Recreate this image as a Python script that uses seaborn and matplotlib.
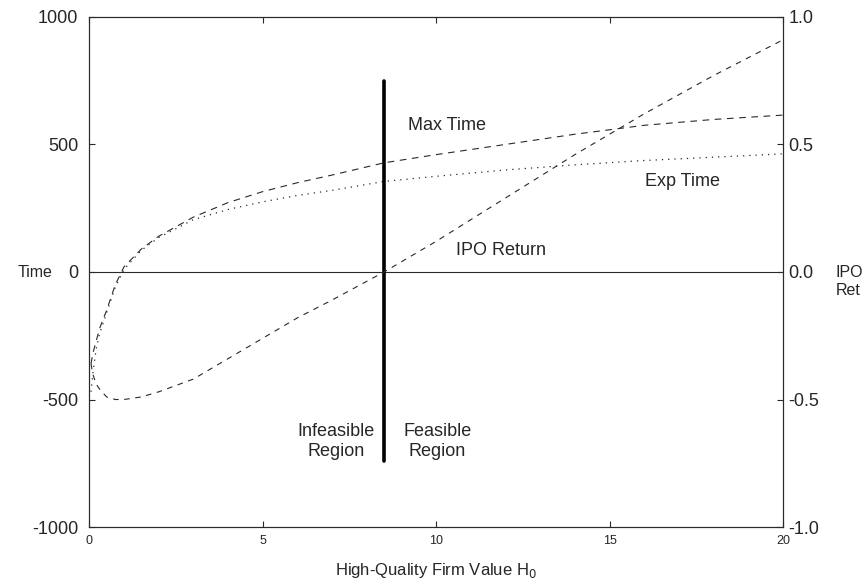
import numpy as np
import pandas as pd
import matplotlib
matplotlib.use("Agg")
import matplotlib.pyplot as plt
import seaborn as sns

# values
hq_value = [0.05, 0.1, 0.2, 0.3, 0.5, 0.75, 1.0, 1.5, 2, 3, 4, 5, 6, 7, 8.5,
            10, 12, 14, 16, 18, 20]
max_time = [-360, -320, -270, -220, -150, -50, 20, 90, 140, 215, 272, 315, 350,
            380, 428, 460, 500, 540, 575, 598, 615]
exp_time = [-470, -400, -300, -240, -160, -60, 10, 85, 135, 205, 245, 275, 300,
            320, 355, 375, 400, 420, 437, 450, 463]
ipo_return = [-0.36, -0.40, -0.44, -0.46, -0.49, -0.50, -0.50, -0.49, -0.47,
              -0.42, -0.34, -0.26, -0.18, -0.11, 0.0, 0.12, 0.29, 0.46, 0.62,
              0.77, 0.91]
boundary_x = 8.5
boundary_y = [-740, 750]

df = pd.DataFrame({"H0": hq_value, "MaxTime": max_time, "ExpTime": exp_time,
                   "IPORet": ipo_return})

sns.set_style("ticks")
plt.rcParams["font.family"] = ["Liberation Sans", "DejaVu Sans"]
plt.rcParams["axes.unicode_minus"] = False

ink = "#2a2a2a"
fig = plt.figure(figsize=(8.67, 5.83), dpi=100)
ax = fig.add_axes([0.103, 0.096, 0.800, 0.875])

sns.lineplot(data=df, x="H0", y="MaxTime", ax=ax, color=ink, lw=0.8,
             linestyle=(0, (6, 5)), estimator=None)
sns.lineplot(data=df, x="H0", y="ExpTime", ax=ax, color=ink, lw=0.9,
             linestyle=(0, (1, 4)), estimator=None)
ax.axhline(0, color=ink, lw=0.8)
ax.plot([boundary_x, boundary_x], boundary_y, color="black", lw=2.6)

ax.set_xlim(0, 20)
ax.set_ylim(-1000, 1000)
ax.set_xticks([0, 5, 10, 15, 20])
ax.set_yticks([-1000, -500, 0, 500, 1000])
ax.tick_params(axis="x", direction="in", labelsize=9, top=True, length=4,
               color=ink, pad=6)
ax.tick_params(axis="y", direction="in", labelsize=13, length=4, color=ink,
               pad=8)
ax.set_xlabel("High-Quality Firm Value H$_0$", fontsize=12, labelpad=10)
ax.set_ylabel("")

ax2 = ax.twinx()
sns.lineplot(data=df, x="H0", y="IPORet", ax=ax2, color=ink, lw=0.8,
             linestyle=(0, (5, 5)), estimator=None)
ax2.set_ylim(-1, 1)
ax2.set_yticks([-1.0, -0.5, 0.0, 0.5, 1.0])
ax2.set_yticklabels(["-1.0", "-0.5", "0.0", "0.5", "1.0"])
ax2.tick_params(axis="y", direction="in", labelsize=13, length=4, color=ink,
                pad=4)
ax2.set_ylabel("")

for a in (ax, ax2):
    for s in a.spines.values():
        s.set_color(ink)
        s.set_linewidth(0.8)

ax.text(10.3, 575, "Max Time", fontsize=13, ha="center", va="center")
ax.text(17.1, 353, "Exp Time", fontsize=13, ha="center", va="center")
ax.text(11.87, 86, "IPO Return", fontsize=13, ha="center", va="center")
ax.text(8.22, -665, "Infeasible\nRegion", fontsize=13, ha="right",
        va="center", multialignment="center", linespacing=1.2)
ax.text(9.05, -665, "Feasible\nRegion", fontsize=13, ha="left",
        va="center", multialignment="center", linespacing=1.2)

fig.text(0.040, 0.533, "Time", fontsize=11.5, ha="center", va="center")
fig.text(0.964, 0.517, "IPO\nRet", fontsize=11.5, ha="left", va="center",
         linespacing=1.2)

fig.savefig("out.png", dpi=100)
